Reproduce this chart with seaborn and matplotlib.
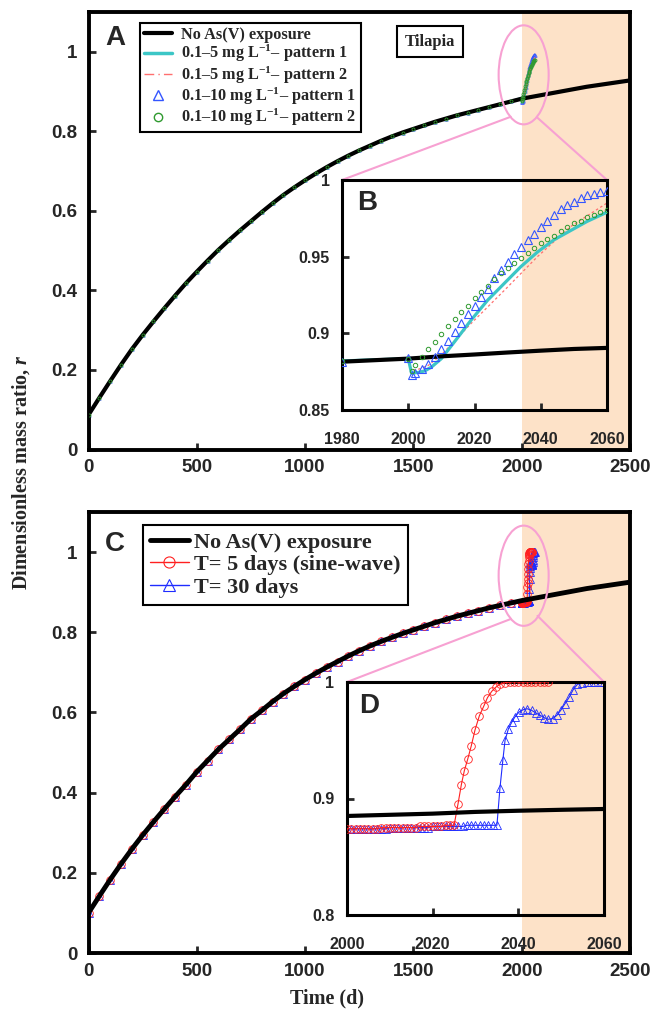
import warnings

warnings.filterwarnings("ignore")

import numpy as np
import pandas as pd
import seaborn as sns
import matplotlib

matplotlib.use("Agg")
from matplotlib import pyplot as plt
from matplotlib.lines import Line2D
from matplotlib.patches import Ellipse, ConnectionPatch
from matplotlib.ticker import FuncFormatter

sns.set_style("ticks")
plt.rcParams["font.family"] = ["Liberation Sans", "DejaVu Sans"]
plt.rcParams["font.weight"] = "bold"
plt.rcParams["mathtext.fontset"] = "custom"
plt.rcParams["mathtext.rm"] = "Liberation Serif:bold"
plt.rcParams["mathtext.bf"] = "Liberation Serif:bold"
plt.rcParams["mathtext.it"] = "Liberation Serif:bold:italic"
plt.rcParams["mathtext.default"] = "bf"

SERIF = ["Liberation Serif", "DejaVu Serif"]

# ---------------- data ----------------
# main time grid, days
days_main = list(range(0, 2501, 50))

# panel A: no As(V) exposure
r_noexp_A = [0.087, 0.130, 0.172, 0.213, 0.252, 0.288, 0.322, 0.355, 0.387, 0.418,
             0.447, 0.475, 0.502, 0.527, 0.551, 0.574, 0.597, 0.619, 0.640, 0.659,
             0.677, 0.694, 0.710, 0.725, 0.739, 0.752, 0.764, 0.776, 0.787, 0.797,
             0.806, 0.815, 0.824, 0.832, 0.840, 0.847, 0.854, 0.861, 0.868, 0.875,
             0.882, 0.887, 0.892, 0.897, 0.902, 0.907, 0.912, 0.916, 0.920, 0.924,
             0.928]

# panel C: no As(V) exposure
r_noexp_C = [0.100, 0.142, 0.183, 0.222, 0.259, 0.294, 0.327, 0.359, 0.390, 0.420,
             0.452, 0.480, 0.508, 0.533, 0.558, 0.584, 0.605, 0.627, 0.647, 0.665,
             0.682, 0.698, 0.713, 0.727, 0.741, 0.754, 0.766, 0.777, 0.787, 0.797,
             0.806, 0.815, 0.824, 0.832, 0.840, 0.847, 0.854, 0.861, 0.867, 0.873,
             0.879, 0.884, 0.889, 0.894, 0.899, 0.904, 0.909, 0.913, 0.917, 0.921,
             0.925]

# inset B (days 1980-2060)
b_noexp_days = [1980, 2000, 2010, 2020, 2030, 2040, 2050, 2060]
b_noexp_r = [0.8815, 0.8835, 0.8850, 0.8862, 0.8875, 0.8887, 0.8898, 0.8905]

p1_5_days = [1980, 2000, 2001, 2003, 2005, 2007, 2010, 2014, 2019, 2024, 2029,
             2034, 2039, 2044, 2049, 2054, 2060]
p1_5_r = [0.882, 0.8835, 0.874, 0.8745, 0.8755, 0.878, 0.8835, 0.8946, 0.9087,
          0.9217, 0.9326, 0.9435, 0.953, 0.961, 0.967, 0.973, 0.979]

p2_5_days = [1980, 2000, 2001, 2003, 2006, 2010, 2019, 2029, 2039, 2049, 2060]
p2_5_r = [0.882, 0.8835, 0.876, 0.8765, 0.879, 0.886, 0.9065, 0.928, 0.950,
          0.9696, 0.985]

p1_10_days = [1980, 2000, 2001, 2002, 2004, 2006, 2008, 2010, 2012, 2014, 2016,
              2018, 2020, 2022, 2024, 2026, 2028, 2030, 2032, 2034, 2036, 2038,
              2040, 2042, 2044, 2046, 2048, 2050, 2052, 2054, 2056, 2058, 2060]
p1_10_r = [0.8815, 0.8837, 0.873, 0.874, 0.8765, 0.880, 0.8848, 0.8896, 0.895,
           0.901, 0.9065, 0.9126, 0.918, 0.9235, 0.929, 0.936, 0.9413, 0.9467,
           0.9515, 0.9565, 0.961, 0.965, 0.9696, 0.973, 0.977, 0.981, 0.9837,
           0.9859, 0.988, 0.990, 0.991, 0.9924, 0.9928]

p2_10_days = [1980, 2000, 2001, 2002, 2004, 2006, 2008, 2010, 2012, 2014, 2016,
              2018, 2020, 2022, 2024, 2026, 2028, 2030, 2032, 2034, 2036, 2038,
              2040, 2042, 2044, 2046, 2048, 2050, 2052, 2054, 2056, 2058, 2060]
p2_10_r = [0.882, 0.8833, 0.8757, 0.8793, 0.8843, 0.8896, 0.8946, 0.8996, 0.905,
           0.9093, 0.9137, 0.918, 0.9228, 0.9267, 0.9309, 0.9352, 0.9391, 0.9424,
           0.9457, 0.9493, 0.9522, 0.9559, 0.9587, 0.9613, 0.9637, 0.9667, 0.9691,
           0.9717, 0.9735, 0.9757, 0.9772, 0.9789, 0.9804]

# inset D (days 2000-2060)
d_noexp_days = [2000, 2010, 2020, 2030, 2040, 2050, 2060]
d_noexp_r = [0.8850, 0.8860, 0.8870, 0.8885, 0.8895, 0.8903, 0.8910]

t5_days = [2000, 2001, 2002, 2003, 2004, 2005, 2006, 2007, 2008, 2009, 2010, 2011,
           2012, 2013, 2014, 2015, 2016, 2017, 2018, 2019, 2020, 2021, 2022, 2023,
           2024, 2025, 2025.9, 2026.7, 2027.4, 2028.2, 2029.0, 2029.9, 2030.9,
           2031.9, 2032.8, 2033.8, 2034.8, 2035.7, 2036.9, 2038, 2039, 2040, 2041,
           2042, 2043, 2044, 2045, 2046, 2047]
t5_r = [0.874, 0.874, 0.874, 0.874, 0.874, 0.874, 0.874, 0.874, 0.875, 0.875, 0.875,
        0.875, 0.875, 0.875, 0.875, 0.875, 0.875, 0.876, 0.876, 0.876, 0.876, 0.876,
        0.876, 0.877, 0.877, 0.877, 0.895, 0.912, 0.924, 0.934, 0.945, 0.959, 0.971,
        0.979, 0.9866, 0.992, 0.9957, 0.998, 0.9994, 1.0, 1.0, 1.0, 1.0, 1.0, 1.0,
        1.0, 1.0, 1.0, 1.0]

t30_days = [2000, 2001, 2002, 2003, 2004, 2005, 2006, 2007, 2008, 2009, 2010, 2011,
            2012, 2013, 2014, 2015, 2016, 2017, 2018, 2019, 2020, 2021, 2022, 2023,
            2024, 2025, 2026, 2027, 2028, 2029, 2030, 2031, 2032, 2033, 2034, 2035,
            2035.7, 2036.4, 2036.9, 2037.7, 2038.5, 2039.2, 2040.2, 2041.2, 2042.1,
            2043.1, 2044.1, 2045.1, 2046.0, 2047.0, 2048.0, 2049.0, 2049.9, 2050.9,
            2051.9, 2052.8, 2053.8, 2054.8, 2056, 2057, 2058, 2059, 2060]
t30_r = [0.874, 0.874, 0.874, 0.874, 0.874, 0.874, 0.874, 0.874, 0.874, 0.874,
         0.875, 0.875, 0.875, 0.875, 0.875, 0.875, 0.875, 0.875, 0.875, 0.875,
         0.876, 0.876, 0.876, 0.876, 0.876, 0.876, 0.876, 0.876, 0.877, 0.877,
         0.877, 0.877, 0.877, 0.877, 0.877, 0.877, 0.9086, 0.9334, 0.95, 0.96,
         0.9657, 0.97, 0.9743, 0.9763, 0.977, 0.9757, 0.9734, 0.9714, 0.9694, 0.968,
         0.9686, 0.9714, 0.9757, 0.9814, 0.9871, 0.9934, 0.998, 0.9991, 1.0, 1.0,
         1.0, 1.0, 1.0]

legend_A = ["No As(V) exposure",
            "0.1\u20135 mg L$^{-1}$\u2013 pattern 1",
            "0.1\u20135 mg L$^{-1}$\u2013 pattern 2",
            "0.1\u201310 mg L$^{-1}$\u2013 pattern 1",
            "0.1\u201310 mg L$^{-1}$\u2013 pattern 2"]
legend_C = ["No As(V) exposure", "T= 5 days (sine-wave)", "T= 30 days"]

# ---------------- styling ----------------
BLACK = "black"
CYAN = "#3cc6c6"
RED_DASH = "#ff6f6f"
BLUE = "#3355ff"
GREEN = "#2f9a2f"
RED = "#ff2020"
BLUE_C = "#1f2cff"
PINK = "#f7a1d2"
PEACH = "#fde2c8"

W, H = 654, 1016


def px(x0, y0, x1, y1):
    return [x0 / W, 1 - y1 / H, (x1 - x0) / W, (y1 - y0) / H]


def fmt(v, _):
    return f"{v:g}"


def style(ax, spine_lw, labelsize, xpad, ypad, ticklen=5):
    for s in ax.spines.values():
        s.set_visible(True)
        s.set_linewidth(spine_lw)
        s.set_color("black")
    ax.tick_params(direction="in", length=ticklen, width=2, labelsize=labelsize,
                   top=False, right=False)
    ax.tick_params(axis="x", pad=xpad)
    ax.tick_params(axis="y", pad=ypad)
    ax.xaxis.set_major_formatter(FuncFormatter(fmt))
    ax.yaxis.set_major_formatter(FuncFormatter(fmt))
    ax.set_xlabel("")
    ax.set_ylabel("")


def line(ax, x, y, **kw):
    df = pd.DataFrame({"t": x, "r": y})
    sns.lineplot(data=df, x="t", y="r", ax=ax, estimator=None, sort=False,
                 legend=False, **kw)


fig = plt.figure(figsize=(W / 100, H / 100), dpi=100)

axA = fig.add_axes(px(88.5, 12, 630, 449.5))
axC = fig.add_axes(px(88.5, 512, 630, 953))
axB = fig.add_axes(px(342, 180, 607, 410))
axD = fig.add_axes(px(347, 682, 604, 915))
for ax in (axB, axD):
    ax.set_facecolor("none")
    ax.set_zorder(5)

# ---------------- panel A ----------------
axA.axvspan(2000, 2500, color=PEACH, lw=0, zorder=0)
pre = [i for i, d in enumerate(days_main) if d < 1980]
base_d = [days_main[i] for i in pre]
base_r = [r_noexp_A[i] for i in pre]
line(axA, base_d + p1_10_days[1:], base_r + p1_10_r[1:], color=BLUE, lw=0,
     marker="^", markersize=2.5, markerfacecolor="none", markeredgecolor=BLUE,
     markeredgewidth=0.5, zorder=2)
line(axA, base_d + p1_5_days[1:], base_r + p1_5_r[1:], color=CYAN, lw=2, zorder=2)
line(axA, base_d + p2_5_days[1:], base_r + p2_5_r[1:], color=RED_DASH, lw=1,
     zorder=2)
line(axA, days_main, r_noexp_A, color=BLACK, lw=3, zorder=3)
line(axA, base_d + p2_10_days[1:], base_r + p2_10_r[1:], color=GREEN, lw=0,
     marker="o", markersize=2.2, markerfacecolor="none", markeredgecolor=GREEN,
     markeredgewidth=0.6, zorder=4)

axA.set_xlim(0, 2500)
axA.set_ylim(0, 1.1)
axA.set_xticks([0, 500, 1000, 1500, 2000, 2500])
axA.set_yticks([0, 0.2, 0.4, 0.6, 0.8, 1.0])
style(axA, 2.8, 13.5, 7, 8)

hA = [Line2D([], [], color=BLACK, lw=3),
      Line2D([], [], color=CYAN, lw=2.5),
      Line2D([], [], color=RED_DASH, lw=1, ls=(0, (7, 3, 1, 3))),
      Line2D([], [], ls="none", marker="^", ms=7, mfc="none", mec=BLUE, mew=1),
      Line2D([], [], ls="none", marker="o", ms=6, mfc="none", mec=GREEN, mew=1)]
legA = axA.legend(hA, legend_A, loc="upper left", bbox_to_anchor=(0.095, 0.975),
                  borderaxespad=0, frameon=True, fancybox=False, framealpha=1,
                  edgecolor="black", handlelength=1.75, handletextpad=0.55,
                  labelspacing=0.0, borderpad=0.25,
                  prop={"family": SERIF, "weight": "bold", "size": 11.7})
legA.get_frame().set_linewidth(1.5)

fig.text(430 / W, 1 - 41.5 / H, "Tilapia", fontfamily=SERIF, fontsize=12,
         fontweight="bold", ha="center", va="center",
         bbox=dict(boxstyle="square,pad=0.45", fc="white", ec="black", lw=1.5))

axA.add_patch(Ellipse((2009, 0.942), 231, 0.249, fill=False, ec=PINK, lw=1.5,
                      zorder=6, clip_on=False))

# ---------------- inset B ----------------
line(axB, p2_5_days, p2_5_r, color=RED_DASH, lw=0.9, linestyle=(0, (2, 2)), zorder=2)
line(axB, p1_5_days, p1_5_r, color=CYAN, lw=2.3, zorder=3)
line(axB, b_noexp_days, b_noexp_r, color=BLACK, lw=3, zorder=4)
line(axB, p1_10_days, p1_10_r, color=BLUE, lw=0, marker="^", markersize=6,
     markerfacecolor="none", markeredgecolor=BLUE, markeredgewidth=0.8, zorder=5)
line(axB, p2_10_days, p2_10_r, color=GREEN, lw=0, marker="o", markersize=3.2,
     markerfacecolor="none", markeredgecolor=GREEN, markeredgewidth=0.7, zorder=5)
axB.set_xlim(1980, 2060)
axB.set_ylim(0.85, 1.0)
axB.set_xticks([1980, 2000, 2020, 2040, 2060])
axB.set_yticks([0.85, 0.9, 0.95, 1.0])
style(axB, 2.2, 11.5, 16, 9, ticklen=5)

# ---------------- panel C ----------------
axC.axvspan(2000, 2500, color=PEACH, lw=0, zorder=0)
preC = [i for i, d in enumerate(days_main) if d < 2000]
baseC_d = [days_main[i] for i in preC]
baseC_r = [r_noexp_C[i] for i in preC]
line(axC, baseC_d + t30_days, baseC_r + t30_r, color=BLUE_C, lw=0.8, marker="^",
     markersize=5.5, markerfacecolor="none", markeredgecolor=BLUE_C,
     markeredgewidth=0.6, zorder=2)
line(axC, baseC_d + t5_days, baseC_r + t5_r, color=RED, lw=0.8, marker="o",
     markersize=5.5, markerfacecolor="none", markeredgecolor=RED,
     markeredgewidth=0.6, zorder=2)
line(axC, days_main, r_noexp_C, color=BLACK, lw=3.5, zorder=3)
axC.set_xlim(0, 2500)
axC.set_ylim(0, 1.1)
axC.set_xticks([0, 500, 1000, 1500, 2000, 2500])
axC.set_yticks([0, 0.2, 0.4, 0.6, 0.8, 1.0])
style(axC, 2.8, 13.5, 7, 8)

hC = [Line2D([], [], color=BLACK, lw=3.5),
      Line2D([], [], color=RED, lw=1, marker="o", ms=8, mfc="none", mec=RED, mew=0.8),
      Line2D([], [], color=BLUE_C, lw=1, marker="^", ms=8, mfc="none", mec=BLUE_C,
             mew=0.8)]
legC = axC.legend(hC, legend_C, loc="upper left", bbox_to_anchor=(0.1, 0.9705),
                  borderaxespad=0, frameon=True, fancybox=False, framealpha=1,
                  edgecolor="black", handlelength=1.75, handletextpad=0.25,
                  labelspacing=0.08, borderpad=0.33,
                  prop={"family": SERIF, "weight": "bold", "size": 16})
legC.get_frame().set_linewidth(1.5)

axC.add_patch(Ellipse((2009, 0.941), 231, 0.25, fill=False, ec=PINK, lw=1.5,
                      zorder=6, clip_on=False))

# ---------------- inset D ----------------
line(axD, t30_days, t30_r, color=BLUE_C, lw=0.8, marker="^", markersize=5.5,
     markerfacecolor="none", markeredgecolor=BLUE_C, markeredgewidth=0.6, zorder=2)
line(axD, t5_days, t5_r, color=RED, lw=0.8, marker="o", markersize=5.5,
     markerfacecolor="none", markeredgecolor=RED, markeredgewidth=0.6, zorder=3)
line(axD, d_noexp_days, d_noexp_r, color=BLACK, lw=3, zorder=4)
axD.set_xlim(2000, 2060)
axD.set_ylim(0.8, 1.0)
axD.set_xticks([2000, 2020, 2040, 2060])
axD.set_yticks([0.8, 0.9, 1.0])
style(axD, 2.2, 11.5, 16, 9, ticklen=5)

# ---------------- zoom connectors ----------------
for ax_main, ax_in, left_pt, right_pt in (
        (axA, axB, (1949, 0.8365), (2073, 0.834)),
        (axC, axD, (1949, 0.833), (2073, 0.841))):
    for pt, corner in ((left_pt, (0, 1)), (right_pt, (1, 1))):
        con = ConnectionPatch(xyA=pt, coordsA=ax_main.transData, xyB=corner,
                              coordsB=ax_in.transAxes, color=PINK, lw=1.5)
        fig.add_artist(con)

# ---------------- panel letters and axis labels ----------------
for letter, x, y in (("A", 115, 38), ("B", 367, 203), ("C", 115, 544), ("D", 369, 706)):
    fig.text(x / W, 1 - y / H, letter, fontsize=20, fontweight="bold",
             ha="center", va="center", zorder=10)

fig.text(327 / W, 1 - 998 / H, "Time (d)", fontfamily=SERIF, fontsize=14.5,
         fontweight="bold", ha="center", va="center")
fig.text(21 / W, 0.535, "Dimensionless mass ratio, $\\mathit{r}$",
         fontfamily=SERIF, fontsize=14.5, fontweight="bold", rotation=90,
         ha="center", va="center")

fig.savefig("out.png", dpi=100)
